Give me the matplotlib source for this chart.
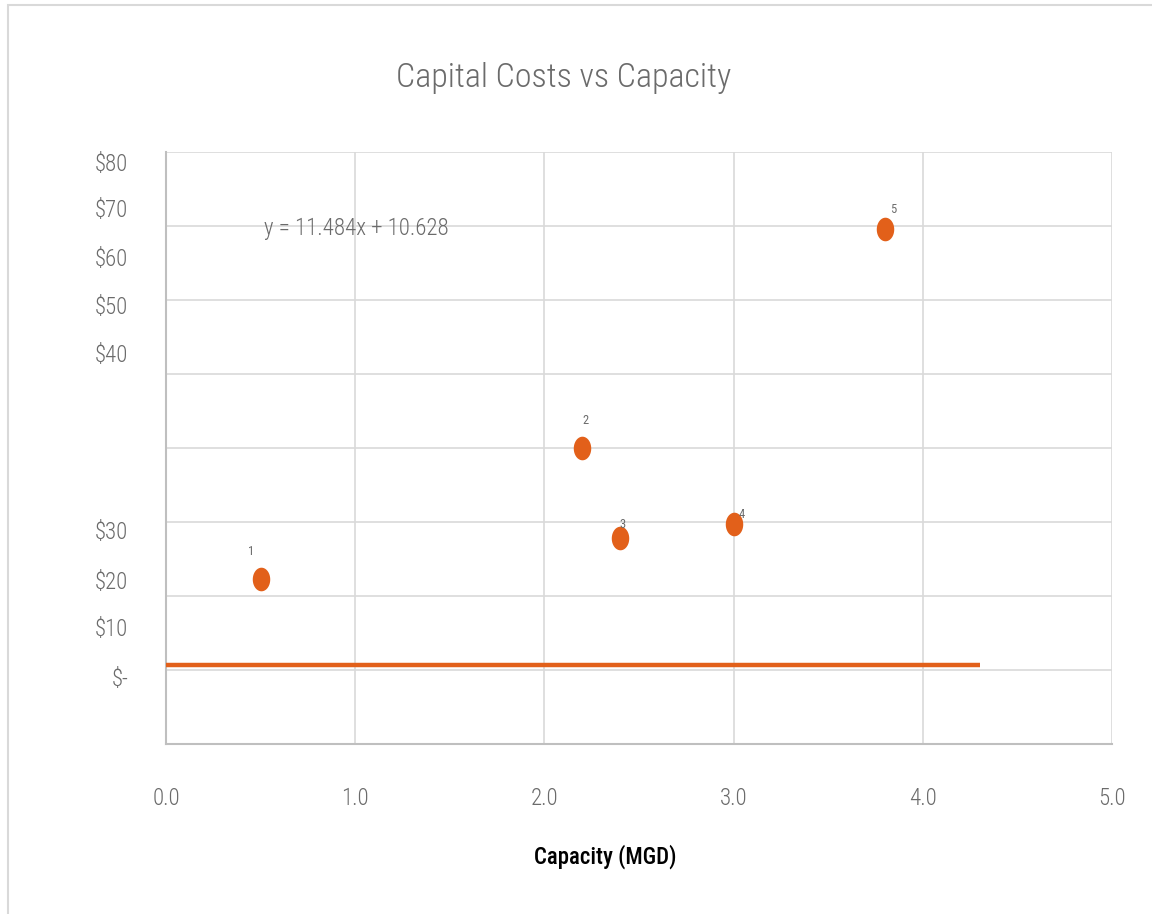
import matplotlib
matplotlib.use("Agg")
import matplotlib.pyplot as plt
from matplotlib.path import Path
from matplotlib.patches import Rectangle
import numpy as np

# Plant capacities (MGD) and capital costs ($M)
capacity = [0.5, 2.2, 2.4, 3.0, 3.8]
cost = [22.3, 40.0, 27.8, 29.7, 69.6]
point_labels = ["1", "2", "3", "4", "5"]

# Linear trend fit reported on the chart
slope = 11.484
intercept = 10.628
trend_end = 4.3

x_ticks = [0.0, 1.0, 2.0, 3.0, 4.0, 5.0]
grid_values = [0, 10, 20, 30, 40, 50, 60, 70, 80]
y_tick_labels = ["$80", "$70", "$60", "$50", "$40", "$30", "$20", "$10", "$-"]
y_tick_positions = [78.6, 72.4, 65.8, 59.3, 52.8, 28.9, 22.2, 15.8, 9.1]
label_offsets = [(-7, 20), (2, 20), (2, 10), (6, 7), (6, 14)]

ORANGE = "#E2601A"
GRAY_TXT = "#6b6b6b"
GRID = "#d9d9d9"

plt.rcParams['font.family'] = ['Roboto Condensed', 'Archivo Narrow', 'Barlow Condensed', 'DejaVu Sans']

fig = plt.figure(figsize=(11.52, 9.14), dpi=100)
fig.patches.append(Rectangle((8 / 1152, -0.1), 1.2, 1 - 5 / 914 + 0.1,
                             transform=fig.transFigure, fill=False,
                             edgecolor="#d9d9d9", linewidth=1.5))

ax = fig.add_axes([166 / 1152, 1 - 744 / 914, (1112 - 166) / 1152, (744 - 152) / 914])
ax.set_xlim(0, 5)
ax.set_ylim(0, 80)

for v in grid_values:
    ax.axhline(v, color=GRID, lw=1.2, zorder=0)
for v in x_ticks:
    ax.axvline(v, color=GRID, lw=1.2, zorder=0)

for s in ["top", "right"]:
    ax.spines[s].set_visible(False)
for s in ["left", "bottom"]:
    ax.spines[s].set_color("#bfbfbf")
    ax.spines[s].set_linewidth(1.5)

ax.set_xticks(x_ticks)
ax.set_xticklabels([f"{v:.1f}" for v in x_ticks], fontsize=16.5, color=GRAY_TXT,
                   fontweight="light")
ax.tick_params(axis="x", length=0, pad=31)
ax.set_yticks(y_tick_positions)
ax.set_yticklabels(y_tick_labels, fontsize=16.5, color=GRAY_TXT, fontweight="light")
ax.tick_params(axis="y", length=0, pad=27)

# Trend line as rendered (flat at its intercept)
ax.plot([0, trend_end], [intercept, intercept], color=ORANGE, lw=3.2,
        solid_capstyle="butt", zorder=3)

# Ellipse-shaped markers
theta = np.linspace(0, 2 * np.pi, 60)
ellipse = Path(np.column_stack([0.74 * np.cos(theta), np.sin(theta)]), closed=True)
ax.plot(capacity, cost, linestyle="none", marker=ellipse, markersize=17,
        color=ORANGE, markeredgewidth=0, zorder=4, clip_on=False)

for x, y, lab, (dx, dy) in zip(capacity, cost, point_labels, label_offsets):
    ax.annotate(lab, (x, y), xytext=(dx, dy), textcoords="offset points",
                ha="center", va="center", fontsize=9, color=GRAY_TXT, zorder=5)

ax.text(0.518, 69.6, f"y = {slope}x + {intercept}", fontsize=16.5,
        color=GRAY_TXT, ha="left", va="center", fontweight="light")

fig.text(564 / 1152, 1 - 78 / 914, "Capital Costs vs Capacity", fontsize=24.5,
         color=GRAY_TXT, ha="center", va="center", fontweight="light")
fig.text(605 / 1152, 1 - 857 / 914, "Capacity (MGD)", fontsize=16.5,
         color="#000000", ha="center", va="center", fontweight="medium")

fig.savefig("out.png", dpi=100)
